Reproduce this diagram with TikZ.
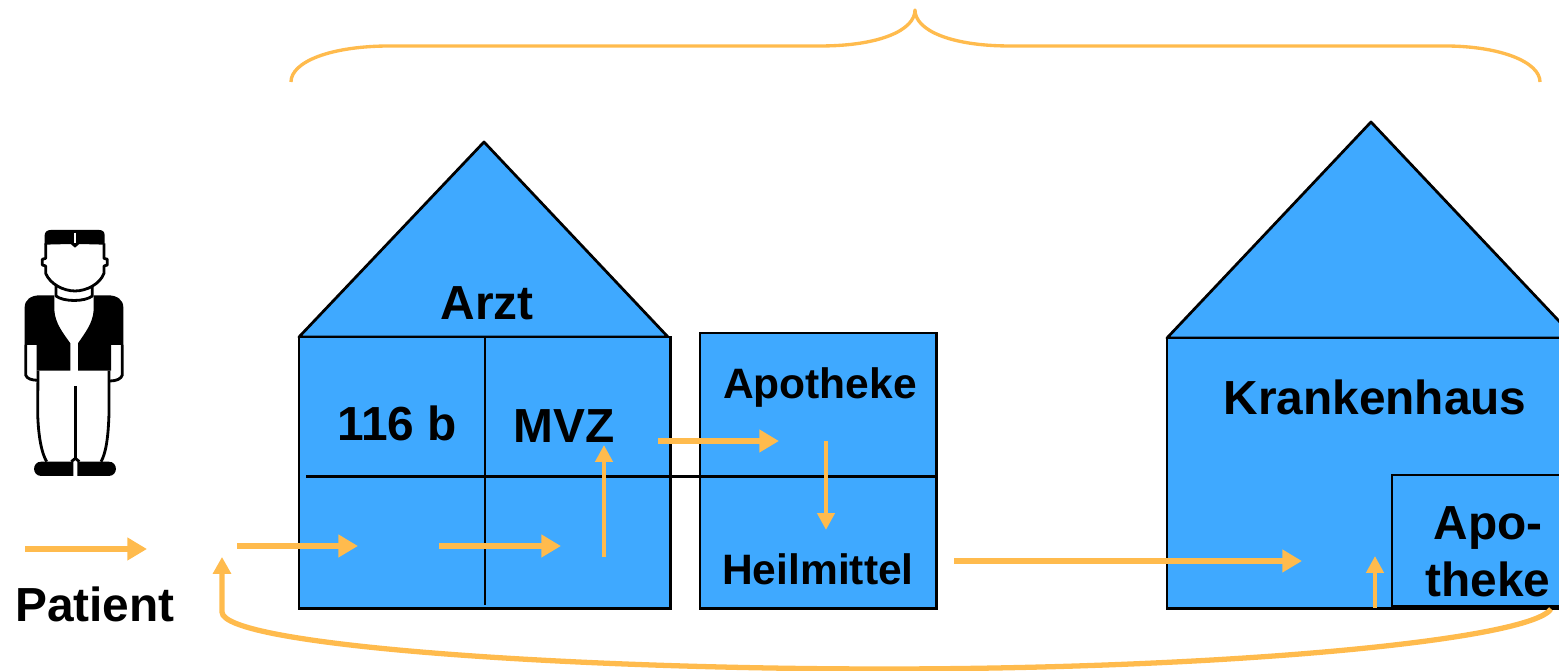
\documentclass[tikz,border=0pt]{standalone}
\usepackage{fontspec}
\setmainfont{Liberation Sans}
\usetikzlibrary{arrows.meta}
\definecolor{houseblue}{HTML}{3FA9FF}
\definecolor{flow}{HTML}{FFBB4D}
\begin{document}
\begin{tikzpicture}[
        x=0.01cm, y=-0.01cm,
        house/.style={rectangle, draw=black, fill=houseblue, line width=0.78pt, anchor=north west, inner sep=0pt, outer sep=0pt},
        roof/.style={draw=black, fill=houseblue, line width=0.78pt, line join=round},
        wall/.style={draw=black, line width=0.85pt},
        label/.style={font=\fontsize{13.6pt}{16pt}\selectfont\bfseries, inner sep=0pt, anchor=base},
        smalllabel/.style={font=\fontsize{12.1pt}{14pt}\selectfont\bfseries, inner sep=0pt, anchor=base},
        arrow/.style={draw=flow, line width=1.6pt, -{Triangle[length=5.6pt, width=6.2pt]}},
        uparrow/.style={draw=flow, line width=1.25pt, -{Triangle[length=4.8pt, width=4.8pt]}},
        backarrow/.style={draw=flow, line width=1.5pt, -{Triangle[length=4.8pt, width=5pt]}},
        brace/.style={draw=flow, line width=0.95pt, line join=round},
        ink/.style={draw=black, line width=0.8pt, line join=round},
        solid ink/.style={fill=black, draw=none}
    ]
    \useasboundingbox (0,671) rectangle (1559,0);
    \clip (0,671) rectangle (1559,0);

    % Arzt
    \draw[roof] (299,337) -- (484,142) -- (668,337) -- cycle;
    \node (arzt) at (299,337) [house, minimum width=3.71cm, minimum height=2.71cm] {};
    \node (apotheke) at (700,333) [house, minimum width=2.36cm, minimum height=2.75cm] {};

    % Krankenhaus
    \draw[roof] (1167,338) -- (1371,122) -- (1575,338) -- cycle;
    \node (krankenhaus) at (1167,338) [house, minimum width=4.3cm, minimum height=2.7cm] {};
    \node (apobox) at (1392,475) [house, minimum width=2cm, minimum height=1.31cm] {};

    % Dividers
    \draw[wall] (485,337) -- (485,605);
    \draw[wall] (306,477) -- (938,477);

    % Labels
    \node (arztlabel) at (487,320) [label] {Arzt};
    \node (paragraph) at (397,441) [label] {116 b};
    \node (mvz) at (564,443) [label] {MVZ};
    \node (apothekelabel) at (820,399) [smalllabel] {Apotheke};
    \node (heilmittel) at (818,585) [smalllabel] {Heilmittel};
    \node (krankenhauslabel) at (1375,415) [label] {Krankenhaus};
    \node (apo) at (1488,540) [label] {Apo-};
    \node (theke) at (1488,597) [label] {theke};
    \node (patient) at (95,622) [label] {Patient};

    % Arrow ends
    \coordinate (legendstart) at (25,549);
    \coordinate (legendend) at (147,549);
    \coordinate (entry) at (237,546);
    \coordinate (entryend) at (358,546);
    \coordinate (doctor) at (439,546);
    \coordinate (doctorend) at (561,546);
    \coordinate (up) at (604,557);
    \coordinate (upend) at (604,445);
    \coordinate (mvzout) at (658,441);
    \coordinate (mvzend) at (779,441);
    \coordinate (down) at (826,441);
    \coordinate (downend) at (826,530);
    \coordinate (remedy) at (954,561);
    \coordinate (remedyend) at (1302,561);
    \coordinate (hospital) at (1375,608);
    \coordinate (hospitalend) at (1375,556);
    \coordinate (back) at (1551,609);
    \coordinate (backend) at (222,557);

    \draw[arrow] (legendstart) -- (legendend);
    \draw[arrow] (entry) -- (entryend);
    \draw[arrow] (doctor) -- (doctorend);
    \draw[uparrow] (up) -- (upend);
    \draw[arrow] (mvzout) -- (mvzend);
    \draw[uparrow] (down) -- (downend);
    \draw[arrow] (remedy) -- (remedyend);
    \draw[uparrow] (hospital) -- (hospitalend);
    \draw[backarrow] (back) .. controls (1530,640) and (1230,669) .. (885,669)
        .. controls (560,669) and (222,645) .. (222,612) -- (backend);

    % Brace
    \draw[brace] (291,82) .. controls (291,62) and (330,46) .. (390,46) -- (820,46)
        .. controls (880,46) and (915,30) .. (915,10)
        .. controls (915,30) and (950,46) .. (1010,46) -- (1445,46)
        .. controls (1500,46) and (1540,62) .. (1540,82);

    % Patient figure
    \begin{scope}[shift={(0,210)}, x=0.01cm/3, y=-0.01cm/3]
        \fill[solid ink] (134,104) -- (134,76) .. controls (134,66) and (142,60) .. (152,60)
            -- (298,60) .. controls (308,60) and (314,66) .. (314,76) -- (314,104)
            -- (238,102) -- (225,113) -- (212,102) -- cycle;
        \draw[white, line width=0.5pt] (226,68) -- (226,98);
        \draw[ink] (137,100) -- (137,145) -- (127,148) -- (127,165) -- (137,168) -- (137,190)
            .. controls (150,222) and (190,243) .. (225,243)
            .. controls (260,243) and (300,222) .. (312,190)
            -- (312,168) -- (322,165) -- (322,148) -- (312,145) -- (312,100);
        \draw[ink] (168,228) -- (168,258) .. controls (190,276) and (255,276) .. (277,258) -- (277,228);
        \fill[solid ink] (74,405) -- (74,292) .. controls (74,270) and (92,256) .. (120,256)
            -- (163,256) -- (163,300) .. controls (165,340) and (190,370) .. (211,400)
            -- (211,482) -- (110,482) -- (110,405) -- cycle;
        \fill[solid ink] (370,405) -- (370,292) .. controls (370,270) and (352,256) .. (324,256)
            -- (281,256) -- (281,300) .. controls (279,340) and (254,370) .. (234,400)
            -- (234,482) -- (333,482) -- (333,405) -- cycle;
        \draw[ink] (77,405) -- (77,495) .. controls (80,506) and (95,511) .. (115,511);
        \draw[ink] (367,405) -- (367,495) .. controls (364,506) and (350,513) .. (330,513);
        \draw[ink] (114,482) -- (113,610) .. controls (115,680) and (125,730) .. (140,755);
        \draw[ink] (327,482) -- (327,610) .. controls (325,680) and (318,730) .. (303,755);
        \draw[ink] (226,528) -- (226,745);
        \draw[ink] (214,755) -- (226,745) -- (238,755);
        \fill[solid ink] (220,755) -- (124,755) .. controls (95,755) and (95,798) .. (124,798) -- (220,798) -- cycle;
        \fill[solid ink] (232,755) -- (326,755) .. controls (355,755) and (355,798) .. (326,798) -- (232,798) -- cycle;
    \end{scope}

\end{tikzpicture}
\end{document}
